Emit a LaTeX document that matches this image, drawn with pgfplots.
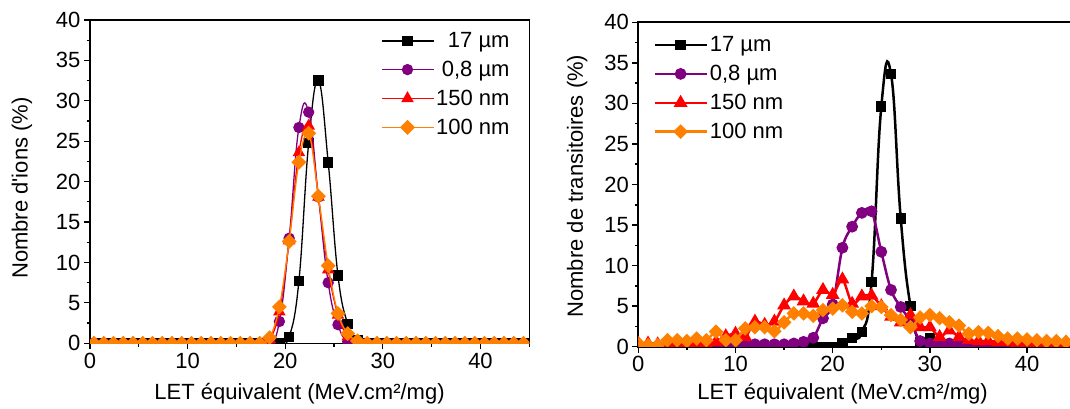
\documentclass[border=0pt]{standalone}
\usepackage{fontspec}
\setmainfont{Liberation Sans}[Ligatures=TeXOff]
\usepackage{pgfplots}
\usepackage{pgfplotstable}
\pgfplotsset{compat=1.18}
\definecolor{cpurple}{RGB}{128,0,128}
\definecolor{corange}{RGB}{255,128,0}
\definecolor{cred}{RGB}{255,0,0}

% left panel: x = bin centre, k = 17 um, p = 0,8 um, r = 150 nm, o = 100 nm
\pgfplotstableread{
x k p r o
0.4 0 0 0 0
1.4 0 0 0 0
2.4 0 0 0 0
3.4 0 0 0 0
4.4 0 0 0 0
5.4 0 0 0 0
6.4 0 0 0 0
7.4 0 0 0 0
8.4 0 0 0 0
9.4 0 0 0 0
10.4 0 0 0 0
11.4 0 0 0 0
12.4 0 0 0 0
13.4 0 0 0 0
14.4 0 0 0 0
15.4 0 0 0 0
16.4 0 0 0 0
17.4 0 0 0 0
18.4 0 0 0.5 0.7
19.4 0 2.7 3.9 4.5
20.4 0.8 13.0 12.7 12.6
21.4 7.7 26.7 23.6 22.4
22.4 24.8 28.6 26.9 26.0
23.4 32.5 18.1 18.1 18.2
24.4 22.4 7.5 9.1 9.6
25.4 8.4 2.3 3.5 3.7
26.4 2.4 0.2 0.8 1.2
27.4 0.4 0 0 0.3
28.4 0 0 0 0
29.4 0 0 0 0
30.4 0 0 0 0
31.4 0 0 0 0
32.4 0 0 0 0
33.4 0 0 0 0
34.4 0 0 0 0
35.4 0 0 0 0
36.4 0 0 0 0
37.4 0 0 0 0
38.4 0 0 0 0
39.4 0 0 0 0
40.4 0 0 0 0
41.4 0 0 0 0
42.4 0 0 0 0
43.4 0 0 0 0
44.4 0 0 0 0
}\leftdata

% right panel
\pgfplotstableread{
x k p r o
0 0 0 0.4 0.4
1 0 0 0.4 0.2
2 0 0 0.3 0.2
3 0 0 0.3 0.8
4 0 0 0.3 0.8
5 0 0 0.4 0.7
6 0 0 0.4 1.0
7 0 0 0.4 0.8
8 0 0 0.6 1.85
9 0 0.3 1.3 0.8
10 0 0.3 1.6 0.8
11 0 0.3 1.2 2.25
12 0 0.3 3.1 2.4
13 0 0.3 2.7 2.4
14 0 0.3 3.1 1.9
15 0 0.3 5.1 3.0
16 0 0.4 6.2 4.1
17 0 0.6 5.6 4.1
18 0 1.1 5.3 3.8
19 0 3.5 7.0 4.5
20 0 5.2 6.4 4.7
21 0.4 12.2 8.3 5.1
22 1.1 14.8 5.3 4.3
23 1.8 16.5 6.2 4.1
24 8.0 16.7 6.3 5.0
25 29.6 11.7 5.0 4.9
26 33.6 7.0 3.7 3.9
27 15.8 4.9 3.0 3.3
28 5.0 3.1 3.9 2.4
29 0.5 0.7 2.4 3.6
30 1.0 0.4 2.4 3.9
31 0.3 0.3 1.2 3.5
32 0 0.4 2.0 3.0
33 0 0.3 1.2 2.6
34 0 0 0.8 1.6
35 0 0 0.7 1.8
36 0 0 0.7 1.7
37 0 0 0.6 1.3
38 0 0 0.6 1.0
39 0 0 0.5 1.0
40 0 0 0.5 0.9
41 0 0.3 0.5 0.8
42 0 0 0.5 0.7
43 0 0 0.5 0.7
44 0 0 0.5 0.6
45 0 0 0.5 0.6
}\rightdata

\pgfplotsset{
  myaxis/.style={
    scale only axis,
    xmin=0, xmax=45, ymin=0, ymax=40,
    xtick={0,10,20,30,40}, minor xtick={5,15,25,35,45},
    ytick={0,5,...,40}, minor ytick={2.5,7.5,...,37.5},
    tick align=outside, xtick pos=left, ytick pos=left,
    major tick length=6pt, minor tick length=3.5pt,
    tick label style={font=\fontsize{22}{24}\selectfont, black},
    /pgf/number format/assume math mode=true,
    label style={font=\fontsize{22}{24}\selectfont},
    clip marker paths=true,
    legend style={draw=none, fill=none, inner sep=0pt,
      font=\fontsize{22}{24}\selectfont, row sep=8pt},
  },
  lplot/.style={line width=1.3pt, smooth, tension=0.6},
  rplot/.style={line width=2.5pt, smooth, tension=0.5},
}

\begin{document}
\begin{tikzpicture}[x=1pt,y=1pt]
\useasboundingbox (0,0) rectangle (1070,409);
% ---------------- left panel ----------------
\begin{axis}[myaxis,
  width=439.3pt, height=323.3pt,
  at={(90pt,65.7pt)}, anchor=south west,
  axis line style={line width=1.3pt},
  every tick/.style={black, line width=1.2pt},
  xlabel={LET équivalent (MeV.cm²/mg)},
  ylabel={Nombre d'ions (\%)},
  xlabel style={at={(axis description cs:0.477,-0.174)}, anchor=base},
  ylabel style={at={(axis description cs:-0.155,0.48)}, anchor=center},
  legend cell align=right,
  legend style={at={(axis description cs:0.96,0.968)}, anchor=north east},
  legend image code/.code={\draw[line width=1.3pt, sharp plot, mark repeat=2, mark phase=2] plot coordinates {(0pt,0pt) (26pt,0pt) (52pt,0pt)};},
]
\addplot[lplot, black, mark=square*, mark size=4.6pt, tension=0.7] table[x=x,y=k]{\leftdata};
\addlegendentry{17 µm}
\addplot[lplot, cpurple, mark=*, mark size=5pt, tension=0.8] table[x=x,y=p]{\leftdata};
\addlegendentry{0,8 µm}
\addplot[lplot, cred, mark=triangle*, mark size=6pt] table[x=x,y=r]{\leftdata};
\addlegendentry{150 nm}
\addplot[lplot, corange, mark=square*, mark size=4.6pt, mark options={rotate=45}] table[x=x,y=o]{\leftdata};
\addlegendentry{100 nm}
\end{axis}
% ---------------- right panel ----------------
\begin{axis}[myaxis,
  width=437.4pt, height=324.4pt,
  at={(638.3pt,62.3pt)}, anchor=south west,
  axis line style={line width=2pt},
  every tick/.style={black, line width=1.5pt},
  xlabel={LET équivalent (MeV.cm²/mg)},
  ylabel={Nombre de transitoires (\%)},
  xlabel style={at={(axis description cs:0.467,-0.163)}, anchor=base},
  ylabel style={at={(axis description cs:-0.14,0.495)}, anchor=center},
  legend cell align=left,
  legend style={at={(axis description cs:0.034,0.962)}, anchor=north west},
  legend image code/.code={\draw[line width=2.5pt, sharp plot, mark repeat=2, mark phase=2] plot coordinates {(0pt,0pt) (26pt,0pt) (52pt,0pt)};},
]
\addplot[rplot, black, mark=square*, mark size=3.9pt, tension=0.8] table[x=x,y=k]{\rightdata};
\addlegendentry{17 µm}
\addplot[rplot, cpurple, mark=*, mark size=4.6pt, tension=0.6] table[x=x,y=p]{\rightdata};
\addlegendentry{0,8 µm}
\addplot[rplot, cred, mark=triangle*, mark size=5.5pt] table[x=x,y=r]{\rightdata};
\addlegendentry{150 nm}
\addplot[rplot, corange, mark=square*, mark size=3.9pt, mark options={rotate=45}] table[x=x,y=o]{\rightdata};
\addlegendentry{100 nm}
\end{axis}
\end{tikzpicture}
\end{document}
